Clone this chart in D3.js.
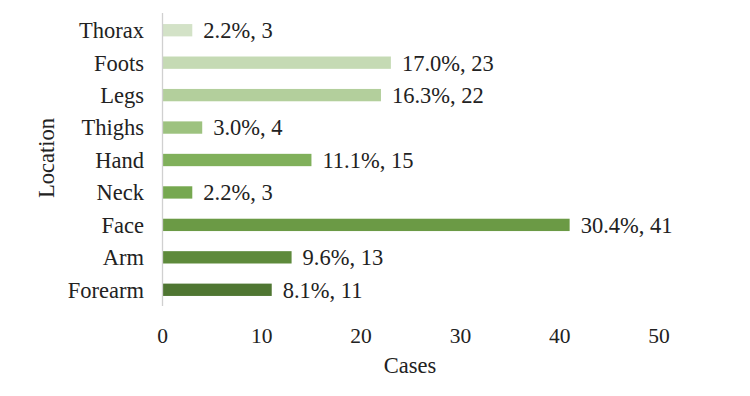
<!DOCTYPE html>
<html><head><meta charset="utf-8">
<script src="https://cdn.jsdelivr.net/npm/d3@7"></script>
<style>body{margin:0;background:#fff}svg{display:block}text{font-family:"Liberation Serif","Times New Roman",serif;fill:#222}</style>
</head><body><svg id="c" width="750" height="396"></svg>
<script>
const categories = ["Thorax","Foots","Legs","Thighs","Hand","Neck","Face","Arm","Forearm"];
const cases = [3,23,22,4,15,3,41,13,11];
const percents = ["2.2%","17.0%","16.3%","3.0%","11.1%","2.2%","30.4%","9.6%","8.1%"];
const colors = ["#d3e2c7","#c5dab4","#b3cf9c","#9dc27f","#80b05b","#76a850","#6b9a45","#5e8a3b","#4f7632"];
const xTicks = [0,10,20,30,40,50];

const svg = d3.select("#c");
const x = d3.scaleLinear().domain([0,50]).range([162.5,659]);
const y = d3.scaleBand().domain(categories).range([14,306]).paddingInner(0.62).paddingOuter(0.31);
const fs = 22.5, fsTick = 21.5;

svg.selectAll("rect.bar").data(categories).enter().append("rect")
  .attr("x", x(0)).attr("y", d=>y(d))
  .attr("width", (d,i)=>x(cases[i])-x(0)).attr("height", y.bandwidth())
  .attr("fill", (d,i)=>colors[i]);

svg.append("line").attr("x1",x(0)).attr("x2",x(0)).attr("y1",13).attr("y2",306)
  .attr("stroke","#d0d0d0").attr("stroke-width",1.3);

svg.selectAll("text.val").data(categories).enter().append("text")
  .attr("x",(d,i)=>x(cases[i])+11).attr("y",d=>y(d)+y.bandwidth()/2)
  .attr("dy","0.35em").attr("font-size",fs)
  .text((d,i)=>percents[i]+", "+cases[i]);

svg.selectAll("text.cat").data(categories).enter().append("text")
  .attr("x",144).attr("y",d=>y(d)+y.bandwidth()/2).attr("dy","0.35em")
  .attr("text-anchor","end").attr("font-size",fs).text(d=>d);

svg.selectAll("text.tick").data(xTicks).enter().append("text")
  .attr("x",d=>x(d)).attr("y",335).attr("dy","0.35em")
  .attr("text-anchor","middle").attr("font-size",fsTick).text(d=>d);

svg.append("text").attr("x",410).attr("y",365).attr("dy","0.35em")
  .attr("text-anchor","middle").attr("font-size",fs).text("Cases");
svg.append("text").attr("transform","translate(46,158) rotate(-90)").attr("dy","0.35em")
  .attr("text-anchor","middle").attr("font-size",fs).text("Location");
</script></body></html>
